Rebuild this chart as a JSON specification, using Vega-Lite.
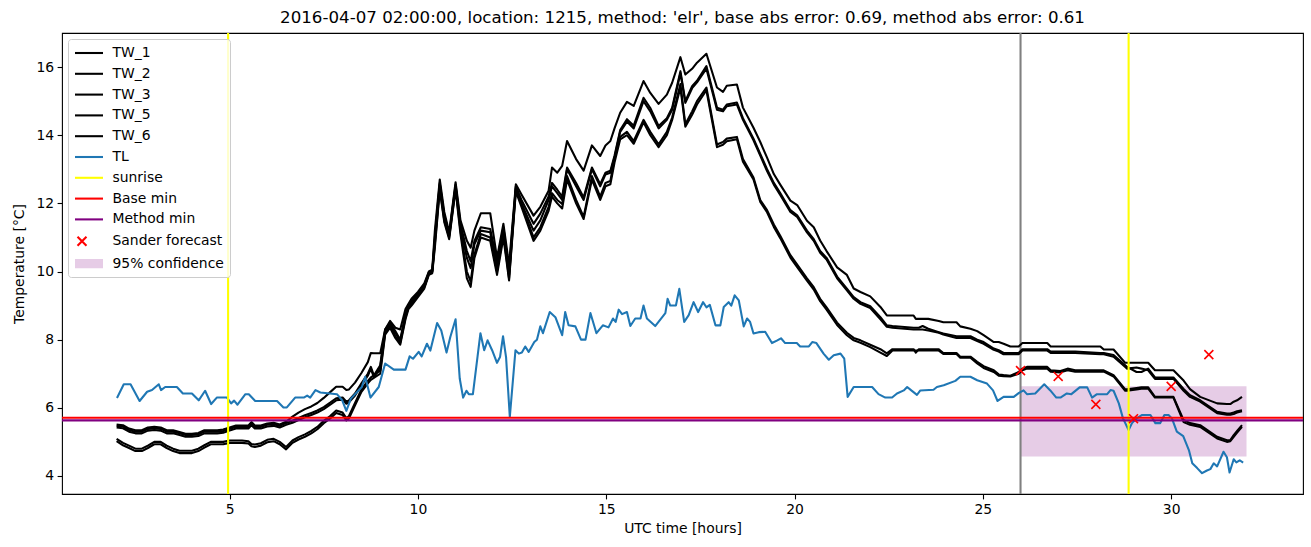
{
"$schema": "https://vega.github.io/schema/vega-lite/v6.json",
"width": 1241, "height": 461,
"autosize": {"type": "none"},
"padding": {"left": 62, "top": 33, "right": 8, "bottom": 53},
"background": "white",
"config": {
  "font": "DejaVu Sans",
  "view": {"stroke": "black", "strokeWidth": 1.1},
  "axis": {"domain": false, "grid": false, "tickColor": "black", "tickSize": 4.9, "tickWidth": 1.1, "labelFontSize": 13.9, "labelColor": "black", "labelPadding": 3.5, "titleFontSize": 13.9, "titleFontWeight": "normal", "titleColor": "black", "labelFont": "DejaVu Sans", "titleFont": "DejaVu Sans"},
  "legend": {"labelFont": "DejaVu Sans"}
},
"title": {"text": "2016-04-07 02:00:00, location: 1215, method: 'elr', base abs error: 0.69, method abs error: 0.61", "fontSize": 16.67, "fontWeight": "normal", "font": "DejaVu Sans", "color": "black", "anchor": "middle", "baseline": "alphabetic", "offset": -8},
"datasets": {
  "tw": [
{"t":2.00,"TW_1":5.51,"TW_2":5.47,"TW_3":5.42,"TW_5":5.09,"TW_6":5.02},
{"t":2.17,"TW_1":5.49,"TW_2":5.45,"TW_3":5.40,"TW_5":4.97,"TW_6":4.90},
{"t":2.33,"TW_1":5.39,"TW_2":5.35,"TW_3":5.30,"TW_5":4.89,"TW_6":4.82},
{"t":2.50,"TW_1":5.34,"TW_2":5.30,"TW_3":5.25,"TW_5":4.80,"TW_6":4.73},
{"t":2.67,"TW_1":5.34,"TW_2":5.30,"TW_3":5.25,"TW_5":4.80,"TW_6":4.73},
{"t":2.83,"TW_1":5.42,"TW_2":5.38,"TW_3":5.33,"TW_5":4.89,"TW_6":4.82},
{"t":3.00,"TW_1":5.44,"TW_2":5.40,"TW_3":5.35,"TW_5":5.00,"TW_6":4.93},
{"t":3.17,"TW_1":5.42,"TW_2":5.38,"TW_3":5.33,"TW_5":5.00,"TW_6":4.93},
{"t":3.33,"TW_1":5.34,"TW_2":5.30,"TW_3":5.25,"TW_5":4.89,"TW_6":4.82},
{"t":3.50,"TW_1":5.34,"TW_2":5.30,"TW_3":5.25,"TW_5":4.80,"TW_6":4.73},
{"t":3.67,"TW_1":5.29,"TW_2":5.25,"TW_3":5.20,"TW_5":4.74,"TW_6":4.67},
{"t":3.83,"TW_1":5.24,"TW_2":5.20,"TW_3":5.15,"TW_5":4.74,"TW_6":4.67},
{"t":4.00,"TW_1":5.24,"TW_2":5.20,"TW_3":5.15,"TW_5":4.74,"TW_6":4.67},
{"t":4.17,"TW_1":5.26,"TW_2":5.22,"TW_3":5.17,"TW_5":4.80,"TW_6":4.73},
{"t":4.33,"TW_1":5.34,"TW_2":5.30,"TW_3":5.25,"TW_5":4.90,"TW_6":4.83},
{"t":4.50,"TW_1":5.34,"TW_2":5.30,"TW_3":5.25,"TW_5":5.00,"TW_6":4.93},
{"t":4.67,"TW_1":5.34,"TW_2":5.30,"TW_3":5.25,"TW_5":5.00,"TW_6":4.93},
{"t":4.83,"TW_1":5.36,"TW_2":5.32,"TW_3":5.27,"TW_5":5.00,"TW_6":4.93},
{"t":5.00,"TW_1":5.42,"TW_2":5.38,"TW_3":5.33,"TW_5":5.04,"TW_6":4.97},
{"t":5.17,"TW_1":5.48,"TW_2":5.44,"TW_3":5.39,"TW_5":5.04,"TW_6":4.97},
{"t":5.33,"TW_1":5.48,"TW_2":5.44,"TW_3":5.39,"TW_5":5.04,"TW_6":4.97},
{"t":5.50,"TW_1":5.48,"TW_2":5.44,"TW_3":5.39,"TW_5":5.02,"TW_6":4.95},
{"t":5.58,"TW_1":5.58,"TW_2":5.54,"TW_3":5.49,"TW_5":4.94,"TW_6":4.87},
{"t":5.67,"TW_1":5.48,"TW_2":5.44,"TW_3":5.39,"TW_5":4.92,"TW_6":4.85},
{"t":5.83,"TW_1":5.48,"TW_2":5.44,"TW_3":5.39,"TW_5":4.96,"TW_6":4.89},
{"t":6.00,"TW_1":5.54,"TW_2":5.50,"TW_3":5.45,"TW_5":5.06,"TW_6":4.99},
{"t":6.17,"TW_1":5.56,"TW_2":5.52,"TW_3":5.47,"TW_5":5.09,"TW_6":5.02},
{"t":6.33,"TW_1":5.51,"TW_2":5.47,"TW_3":5.42,"TW_5":5.00,"TW_6":4.93},
{"t":6.50,"TW_1":5.59,"TW_2":5.55,"TW_3":5.50,"TW_5":4.85,"TW_6":4.78},
{"t":6.67,"TW_1":5.74,"TW_2":5.62,"TW_3":5.56,"TW_5":5.04,"TW_6":4.97},
{"t":6.83,"TW_1":5.86,"TW_2":5.70,"TW_3":5.64,"TW_5":5.14,"TW_6":5.07},
{"t":7.00,"TW_1":5.96,"TW_2":5.78,"TW_3":5.72,"TW_5":5.22,"TW_6":5.15},
{"t":7.17,"TW_1":6.04,"TW_2":5.85,"TW_3":5.79,"TW_5":5.32,"TW_6":5.25},
{"t":7.33,"TW_1":6.14,"TW_2":5.92,"TW_3":5.86,"TW_5":5.44,"TW_6":5.37},
{"t":7.50,"TW_1":6.29,"TW_2":6.02,"TW_3":5.96,"TW_5":5.62,"TW_6":5.55},
{"t":7.67,"TW_1":6.46,"TW_2":6.15,"TW_3":6.09,"TW_5":5.76,"TW_6":5.69},
{"t":7.83,"TW_1":6.62,"TW_2":6.28,"TW_3":6.22,"TW_5":5.92,"TW_6":5.85},
{"t":8.00,"TW_1":6.62,"TW_2":6.30,"TW_3":6.24,"TW_5":5.86,"TW_6":5.79},
{"t":8.10,"TW_1":6.52,"TW_2":6.18,"TW_3":6.12,"TW_5":5.70,"TW_6":5.63},
{"t":8.17,"TW_1":6.54,"TW_2":6.22,"TW_3":6.16,"TW_5":5.76,"TW_6":5.69},
{"t":8.33,"TW_1":6.74,"TW_2":6.42,"TW_3":6.36,"TW_5":6.14,"TW_6":6.07},
{"t":8.50,"TW_1":7.02,"TW_2":6.72,"TW_3":6.66,"TW_5":6.54,"TW_6":6.47},
{"t":8.67,"TW_1":7.34,"TW_2":7.00,"TW_3":6.94,"TW_5":6.79,"TW_6":6.72},
{"t":8.75,"TW_1":7.61,"TW_2":7.20,"TW_3":7.14,"TW_5":6.89,"TW_6":6.82},
{"t":8.83,"TW_1":7.60,"TW_2":6.95,"TW_3":6.90,"TW_5":6.95,"TW_6":6.88},
{"t":9.00,"TW_1":7.60,"TW_2":7.25,"TW_3":7.20,"TW_5":7.10,"TW_6":7.00},
{"t":9.13,"TW_1":8.30,"TW_2":8.30,"TW_3":8.25,"TW_5":8.20,"TW_6":8.15},
{"t":9.26,"TW_1":8.55,"TW_2":8.50,"TW_3":8.45,"TW_5":8.40,"TW_6":8.35},
{"t":9.40,"TW_1":8.35,"TW_2":8.25,"TW_3":8.20,"TW_5":8.10,"TW_6":8.05},
{"t":9.53,"TW_1":8.30,"TW_2":8.00,"TW_3":7.95,"TW_5":7.90,"TW_6":7.85},
{"t":9.67,"TW_1":8.90,"TW_2":8.75,"TW_3":8.70,"TW_5":8.65,"TW_6":8.60},
{"t":9.75,"TW_1":9.05,"TW_2":9.00,"TW_3":8.95,"TW_5":8.95,"TW_6":8.90},
{"t":9.83,"TW_1":9.20,"TW_2":9.15,"TW_3":9.10,"TW_5":9.05,"TW_6":9.00},
{"t":10.00,"TW_1":9.40,"TW_2":9.35,"TW_3":9.30,"TW_5":9.30,"TW_6":9.25},
{"t":10.17,"TW_1":9.65,"TW_2":9.60,"TW_3":9.55,"TW_5":9.55,"TW_6":9.50},
{"t":10.29,"TW_1":10.00,"TW_2":9.98,"TW_3":9.95,"TW_5":9.92,"TW_6":9.90},
{"t":10.38,"TW_1":10.05,"TW_2":10.02,"TW_3":10.00,"TW_5":9.98,"TW_6":9.95},
{"t":10.45,"TW_1":11.2,"TW_2":11.0,"TW_3":10.9,"TW_5":10.8,"TW_6":10.7},
{"t":10.58,"TW_1":12.7,"TW_2":12.6,"TW_3":12.55,"TW_5":12.45,"TW_6":12.4},
{"t":10.70,"TW_1":11.75,"TW_2":11.65,"TW_3":11.6,"TW_5":11.5,"TW_6":11.45},
{"t":10.83,"TW_1":11.15,"TW_2":11.1,"TW_3":11.05,"TW_5":11.0,"TW_6":10.95},
{"t":11.00,"TW_1":12.62,"TW_2":12.55,"TW_3":12.5,"TW_5":12.45,"TW_6":12.4},
{"t":11.13,"TW_1":11.5,"TW_2":11.4,"TW_3":11.3,"TW_5":11.2,"TW_6":11.1},
{"t":11.30,"TW_1":10.9,"TW_2":10.6,"TW_3":10.4,"TW_5":10.0,"TW_6":9.8},
{"t":11.40,"TW_1":10.7,"TW_2":10.3,"TW_3":10.1,"TW_5":9.7,"TW_6":9.55},
{"t":11.50,"TW_1":11.2,"TW_2":10.9,"TW_3":10.8,"TW_5":10.5,"TW_6":10.4},
{"t":11.67,"TW_1":11.71,"TW_2":11.3,"TW_3":11.2,"TW_5":11.1,"TW_6":11.0},
{"t":11.92,"TW_1":11.71,"TW_2":11.25,"TW_3":11.15,"TW_5":11.0,"TW_6":10.9},
{"t":12.10,"TW_1":10.4,"TW_2":10.3,"TW_3":10.1,"TW_5":10.0,"TW_6":9.9},
{"t":12.27,"TW_1":11.4,"TW_2":11.3,"TW_3":11.2,"TW_5":11.1,"TW_6":11.0},
{"t":12.42,"TW_1":10.2,"TW_2":10.0,"TW_3":9.9,"TW_5":9.8,"TW_6":9.74},
{"t":12.60,"TW_1":12.56,"TW_2":12.5,"TW_3":12.45,"TW_5":12.4,"TW_6":12.35},
{"t":12.75,"TW_1":12.26,"TW_2":12.1,"TW_3":12.0,"TW_5":11.97,"TW_6":11.9},
{"t":13.07,"TW_1":11.64,"TW_2":11.4,"TW_3":11.2,"TW_5":11.0,"TW_6":10.9},
{"t":13.25,"TW_1":11.9,"TW_2":11.7,"TW_3":11.5,"TW_5":11.3,"TW_6":11.2},
{"t":13.47,"TW_1":12.37,"TW_2":12.2,"TW_3":12.1,"TW_5":11.9,"TW_6":11.78},
{"t":13.56,"TW_1":13.05,"TW_2":12.6,"TW_3":12.5,"TW_5":12.3,"TW_6":12.2},
{"t":13.70,"TW_1":12.9,"TW_2":12.4,"TW_3":12.3,"TW_5":12.1,"TW_6":12.0},
{"t":13.83,"TW_1":13.1,"TW_2":12.2,"TW_3":12.1,"TW_5":11.98,"TW_6":11.85},
{"t":13.96,"TW_1":13.83,"TW_2":13.05,"TW_3":13.0,"TW_5":12.8,"TW_6":12.7},
{"t":14.20,"TW_1":13.3,"TW_2":12.6,"TW_3":12.5,"TW_5":12.1,"TW_6":12.0},
{"t":14.40,"TW_1":12.96,"TW_2":12.17,"TW_3":12.1,"TW_5":11.6,"TW_6":11.54},
{"t":14.62,"TW_1":13.7,"TW_2":13.05,"TW_3":13.0,"TW_5":12.8,"TW_6":12.7},
{"t":14.84,"TW_1":13.39,"TW_2":12.56,"TW_3":12.5,"TW_5":12.2,"TW_6":12.1},
{"t":14.98,"TW_1":13.7,"TW_2":12.9,"TW_3":12.85,"TW_5":12.6,"TW_6":12.5},
{"t":15.11,"TW_1":13.83,"TW_2":12.96,"TW_3":12.9,"TW_5":12.66,"TW_6":12.56},
{"t":15.22,"TW_1":14.2,"TW_2":13.4,"TW_3":13.35,"TW_5":13.3,"TW_6":13.2},
{"t":15.37,"TW_1":14.66,"TW_2":14.15,"TW_3":14.1,"TW_5":13.95,"TW_6":13.88},
{"t":15.55,"TW_1":14.98,"TW_2":14.47,"TW_3":14.4,"TW_5":14.1,"TW_6":14.0},
{"t":15.73,"TW_1":14.86,"TW_2":14.28,"TW_3":14.2,"TW_5":13.83,"TW_6":13.75},
{"t":15.99,"TW_1":15.59,"TW_2":15.1,"TW_3":15.0,"TW_5":14.45,"TW_6":14.38},
{"t":16.17,"TW_1":15.24,"TW_2":14.8,"TW_3":14.7,"TW_5":14.1,"TW_6":14.0},
{"t":16.39,"TW_1":14.92,"TW_2":14.27,"TW_3":14.2,"TW_5":13.73,"TW_6":13.65},
{"t":16.61,"TW_1":15.19,"TW_2":14.5,"TW_3":14.45,"TW_5":14.1,"TW_6":14.0},
{"t":16.75,"TW_1":15.54,"TW_2":14.81,"TW_3":14.75,"TW_5":14.52,"TW_6":14.45},
{"t":16.97,"TW_1":16.29,"TW_2":15.88,"TW_3":15.82,"TW_5":15.5,"TW_6":15.4},
{"t":17.10,"TW_1":15.78,"TW_2":15.0,"TW_3":14.95,"TW_5":14.32,"TW_6":14.25},
{"t":17.28,"TW_1":15.95,"TW_2":15.44,"TW_3":15.38,"TW_5":14.7,"TW_6":14.6},
{"t":17.41,"TW_1":16.13,"TW_2":15.6,"TW_3":15.55,"TW_5":15.0,"TW_6":14.9},
{"t":17.66,"TW_1":16.39,"TW_2":16.03,"TW_3":15.95,"TW_5":15.4,"TW_6":15.32},
{"t":17.94,"TW_1":15.4,"TW_2":14.81,"TW_3":14.75,"TW_5":13.73,"TW_6":13.65},
{"t":18.10,"TW_1":15.27,"TW_2":14.75,"TW_3":14.7,"TW_5":13.8,"TW_6":13.72},
{"t":18.20,"TW_1":15.45,"TW_2":14.9,"TW_3":14.85,"TW_5":13.9,"TW_6":13.82},
{"t":18.47,"TW_1":15.49,"TW_2":14.96,"TW_3":14.9,"TW_5":13.95,"TW_6":13.88},
{"t":18.63,"TW_1":14.81,"TW_2":14.5,"TW_3":14.45,"TW_5":13.3,"TW_6":13.22},
{"t":18.91,"TW_1":14.22,"TW_2":13.9,"TW_3":13.85,"TW_5":12.76,"TW_6":12.7},
{"t":19.09,"TW_1":13.8,"TW_2":13.45,"TW_3":13.4,"TW_5":12.1,"TW_6":12.04},
{"t":19.27,"TW_1":13.34,"TW_2":13.0,"TW_3":12.95,"TW_5":11.8,"TW_6":11.74},
{"t":19.45,"TW_1":12.86,"TW_2":12.6,"TW_3":12.55,"TW_5":11.38,"TW_6":11.31},
{"t":19.62,"TW_1":12.55,"TW_2":12.3,"TW_3":12.25,"TW_5":11.05,"TW_6":10.98},
{"t":19.89,"TW_1":12.08,"TW_2":11.8,"TW_3":11.75,"TW_5":10.48,"TW_6":10.41},
{"t":20.07,"TW_1":11.95,"TW_2":11.65,"TW_3":11.6,"TW_5":10.2,"TW_6":10.13},
{"t":20.33,"TW_1":11.49,"TW_2":11.2,"TW_3":11.15,"TW_5":9.8,"TW_6":9.73},
{"t":20.51,"TW_1":11.3,"TW_2":10.95,"TW_3":10.9,"TW_5":9.54,"TW_6":9.47},
{"t":20.68,"TW_1":10.91,"TW_2":10.6,"TW_3":10.55,"TW_5":9.2,"TW_6":9.13},
{"t":20.85,"TW_1":10.6,"TW_2":10.4,"TW_3":10.35,"TW_5":8.95,"TW_6":8.88},
{"t":21.13,"TW_1":10.12,"TW_2":9.85,"TW_3":9.8,"TW_5":8.5,"TW_6":8.43},
{"t":21.39,"TW_1":9.9,"TW_2":9.5,"TW_3":9.45,"TW_5":8.2,"TW_6":8.13},
{"t":21.57,"TW_1":9.5,"TW_2":9.25,"TW_3":9.2,"TW_5":8.05,"TW_6":7.98},
{"t":21.75,"TW_1":9.4,"TW_2":9.1,"TW_3":9.05,"TW_5":7.98,"TW_6":7.91},
{"t":22.01,"TW_1":9.27,"TW_2":8.98,"TW_3":8.93,"TW_5":7.85,"TW_6":7.78},
{"t":22.28,"TW_1":8.96,"TW_2":8.66,"TW_3":8.6,"TW_5":7.72,"TW_6":7.62},
{"t":22.45,"TW_1":8.71,"TW_2":8.42,"TW_3":8.38,"TW_5":7.6,"TW_6":7.52},
{"t":22.60,"TW_1":8.71,"TW_2":8.4,"TW_3":8.35,"TW_5":7.72,"TW_6":7.68},
{"t":23.16,"TW_1":8.71,"TW_2":8.35,"TW_3":8.3,"TW_5":7.72,"TW_6":7.68},
{"t":23.22,"TW_1":8.61,"TW_2":8.35,"TW_3":8.3,"TW_5":7.62,"TW_6":7.68},
{"t":23.30,"TW_1":8.61,"TW_2":8.35,"TW_3":8.3,"TW_5":7.72,"TW_6":7.68},
{"t":23.40,"TW_1":8.61,"TW_2":8.4,"TW_3":8.3,"TW_5":7.72,"TW_6":7.68},
{"t":23.55,"TW_1":8.61,"TW_2":8.32,"TW_3":8.27,"TW_5":7.72,"TW_6":7.68},
{"t":23.83,"TW_1":8.55,"TW_2":8.22,"TW_3":8.2,"TW_5":7.72,"TW_6":7.68},
{"t":23.95,"TW_1":8.51,"TW_2":8.18,"TW_3":8.15,"TW_5":7.61,"TW_6":7.58},
{"t":24.30,"TW_1":8.51,"TW_2":8.1,"TW_3":8.05,"TW_5":7.61,"TW_6":7.58},
{"t":24.40,"TW_1":8.39,"TW_2":8.1,"TW_3":8.05,"TW_5":7.5,"TW_6":7.47},
{"t":24.67,"TW_1":8.32,"TW_2":8.1,"TW_3":8.05,"TW_5":7.5,"TW_6":7.47},
{"t":24.85,"TW_1":8.25,"TW_2":8.0,"TW_3":7.96,"TW_5":7.35,"TW_6":7.3},
{"t":25.02,"TW_1":8.13,"TW_2":7.93,"TW_3":7.88,"TW_5":7.22,"TW_6":7.17},
{"t":25.29,"TW_1":7.93,"TW_2":7.74,"TW_3":7.7,"TW_5":7.1,"TW_6":7.05},
{"t":25.42,"TW_1":7.93,"TW_2":7.69,"TW_3":7.65,"TW_5":6.98,"TW_6":6.94},
{"t":25.55,"TW_1":7.88,"TW_2":7.61,"TW_3":7.57,"TW_5":6.96,"TW_6":6.93},
{"t":25.73,"TW_1":7.8,"TW_2":7.61,"TW_3":7.57,"TW_5":6.94,"TW_6":6.92},
{"t":25.95,"TW_1":7.8,"TW_2":7.61,"TW_3":7.57,"TW_5":7.05,"TW_6":7.0},
{"t":26.05,"TW_1":7.9,"TW_2":7.72,"TW_3":7.68,"TW_5":7.15,"TW_6":7.1},
{"t":26.17,"TW_1":7.9,"TW_2":7.72,"TW_3":7.68,"TW_5":7.2,"TW_6":7.15},
{"t":26.71,"TW_1":7.9,"TW_2":7.72,"TW_3":7.68,"TW_5":7.2,"TW_6":7.15},
{"t":26.80,"TW_1":7.8,"TW_2":7.65,"TW_3":7.61,"TW_5":7.1,"TW_6":7.06},
{"t":27.06,"TW_1":7.8,"TW_2":7.65,"TW_3":7.61,"TW_5":7.08,"TW_6":7.04},
{"t":27.25,"TW_1":7.8,"TW_2":7.65,"TW_3":7.61,"TW_5":7.15,"TW_6":7.1},
{"t":27.45,"TW_1":7.8,"TW_2":7.65,"TW_3":7.61,"TW_5":7.1,"TW_6":7.06},
{"t":28.12,"TW_1":7.8,"TW_2":7.61,"TW_3":7.57,"TW_5":7.1,"TW_6":7.06},
{"t":28.21,"TW_1":7.71,"TW_2":7.61,"TW_3":7.57,"TW_5":7.1,"TW_6":7.06},
{"t":28.47,"TW_1":7.71,"TW_2":7.55,"TW_3":7.5,"TW_5":6.96,"TW_6":6.92},
{"t":28.78,"TW_1":7.32,"TW_2":7.25,"TW_3":7.2,"TW_5":6.54,"TW_6":6.5},
{"t":28.83,"TW_1":7.32,"TW_2":7.2,"TW_3":7.15,"TW_5":6.54,"TW_6":6.5},
{"t":29.08,"TW_1":7.32,"TW_2":7.05,"TW_3":7.18,"TW_5":6.58,"TW_6":6.54},
{"t":29.21,"TW_1":7.32,"TW_2":7.05,"TW_3":7.15,"TW_5":6.6,"TW_6":6.56},
{"t":29.39,"TW_1":7.32,"TW_2":7.15,"TW_3":7.1,"TW_5":6.6,"TW_6":6.56},
{"t":29.57,"TW_1":7.1,"TW_2":6.89,"TW_3":6.85,"TW_5":6.32,"TW_6":6.3},
{"t":30.06,"TW_1":7.1,"TW_2":6.89,"TW_3":6.85,"TW_5":6.32,"TW_6":6.3},
{"t":30.33,"TW_1":6.8,"TW_2":6.55,"TW_3":6.5,"TW_5":5.64,"TW_6":5.58},
{"t":30.50,"TW_1":6.55,"TW_2":6.37,"TW_3":6.32,"TW_5":5.55,"TW_6":5.5},
{"t":30.77,"TW_1":6.32,"TW_2":6.22,"TW_3":6.18,"TW_5":5.49,"TW_6":5.44},
{"t":31.22,"TW_1":6.13,"TW_2":5.88,"TW_3":5.84,"TW_5":5.15,"TW_6":5.1},
{"t":31.48,"TW_1":6.11,"TW_2":5.83,"TW_3":5.8,"TW_5":5.05,"TW_6":5.0},
{"t":31.57,"TW_1":6.11,"TW_2":5.83,"TW_3":5.8,"TW_5":5.05,"TW_6":5.02},
{"t":31.66,"TW_1":6.18,"TW_2":5.86,"TW_3":5.82,"TW_5":5.2,"TW_6":5.15},
{"t":31.75,"TW_1":6.22,"TW_2":5.9,"TW_3":5.86,"TW_5":5.32,"TW_6":5.27},
{"t":31.88,"TW_1":6.32,"TW_2":5.93,"TW_3":5.9,"TW_5":5.49,"TW_6":5.44}
  ],
  "tl": [
{"t":2.01,"TL":6.29},{"t":2.19,"TL":6.69},{"t":2.37,"TL":6.69},{"t":2.61,"TL":6.20},{"t":2.81,"TL":6.47},{"t":2.94,"TL":6.52},{"t":3.12,"TL":6.69},{"t":3.18,"TL":6.52},{"t":3.29,"TL":6.61},{"t":3.60,"TL":6.61},{"t":3.76,"TL":6.42},{"t":4.00,"TL":6.42},{"t":4.18,"TL":6.22},{"t":4.35,"TL":6.50},{"t":4.51,"TL":6.11},{"t":4.66,"TL":6.30},{"t":4.93,"TL":6.30},{"t":5.04,"TL":6.13},{"t":5.12,"TL":6.21},{"t":5.21,"TL":6.09},{"t":5.42,"TL":6.40},{"t":5.51,"TL":6.40},{"t":5.68,"TL":6.20},{"t":6.26,"TL":6.20},{"t":6.43,"TL":6.01},{"t":6.52,"TL":6.01},{"t":6.74,"TL":6.30},{"t":6.97,"TL":6.30},{"t":7.06,"TL":6.36},{"t":7.14,"TL":6.30},{"t":7.28,"TL":6.52},{"t":7.41,"TL":6.45},{"t":7.85,"TL":6.40},{"t":7.99,"TL":6.22},{"t":8.10,"TL":5.91},{"t":8.22,"TL":6.27},{"t":8.51,"TL":6.61},{"t":8.60,"TL":6.91},{"t":8.74,"TL":6.30},{"t":8.96,"TL":6.61},{"t":9.13,"TL":7.30},{"t":9.36,"TL":7.12},{"t":9.67,"TL":7.12},{"t":9.78,"TL":7.51},{"t":9.87,"TL":7.44},{"t":10.02,"TL":7.64},{"t":10.10,"TL":7.51},{"t":10.24,"TL":7.88},{"t":10.33,"TL":7.68},{"t":10.51,"TL":8.49},{"t":10.62,"TL":8.27},{"t":10.76,"TL":7.62},{"t":10.86,"TL":8.08},{"t":11.00,"TL":8.60},{"t":11.11,"TL":6.86},{"t":11.20,"TL":6.30},{"t":11.29,"TL":6.50},{"t":11.35,"TL":6.40},{"t":11.46,"TL":6.40},{"t":11.66,"TL":8.19},{"t":11.76,"TL":7.69},{"t":11.85,"TL":7.98},{"t":11.97,"TL":7.69},{"t":12.10,"TL":7.32},{"t":12.18,"TL":7.49},{"t":12.26,"TL":8.10},{"t":12.34,"TL":7.49},{"t":12.44,"TL":5.73},{"t":12.59,"TL":7.69},{"t":12.68,"TL":7.59},{"t":12.76,"TL":7.62},{"t":12.85,"TL":7.80},{"t":12.94,"TL":7.64},{"t":13.09,"TL":7.93},{"t":13.16,"TL":8.00},{"t":13.25,"TL":8.39},{"t":13.32,"TL":8.19},{"t":13.50,"TL":8.81},{"t":13.65,"TL":8.66},{"t":13.83,"TL":8.13},{"t":13.91,"TL":8.81},{"t":14.00,"TL":8.42},{"t":14.18,"TL":8.39},{"t":14.33,"TL":8.00},{"t":14.45,"TL":8.00},{"t":14.58,"TL":8.78},{"t":14.74,"TL":8.19},{"t":14.91,"TL":8.42},{"t":15.06,"TL":8.36},{"t":15.18,"TL":8.62},{"t":15.25,"TL":8.52},{"t":15.33,"TL":8.88},{"t":15.42,"TL":8.75},{"t":15.55,"TL":8.81},{"t":15.64,"TL":8.40},{"t":15.77,"TL":8.62},{"t":15.91,"TL":8.62},{"t":15.99,"TL":9.00},{"t":16.08,"TL":8.62},{"t":16.30,"TL":8.40},{"t":16.57,"TL":8.78},{"t":16.63,"TL":9.20},{"t":16.70,"TL":9.00},{"t":16.85,"TL":9.00},{"t":16.94,"TL":9.49},{"t":17.07,"TL":8.52},{"t":17.19,"TL":8.72},{"t":17.32,"TL":9.10},{"t":17.44,"TL":8.81},{"t":17.57,"TL":9.10},{"t":17.66,"TL":8.95},{"t":17.75,"TL":9.02},{"t":17.90,"TL":8.42},{"t":18.03,"TL":8.42},{"t":18.12,"TL":8.96},{"t":18.25,"TL":9.10},{"t":18.32,"TL":9.00},{"t":18.41,"TL":9.30},{"t":18.52,"TL":9.15},{"t":18.65,"TL":8.39},{"t":18.74,"TL":8.62},{"t":18.82,"TL":8.52},{"t":18.91,"TL":8.18},{"t":19.05,"TL":8.22},{"t":19.22,"TL":8.23},{"t":19.40,"TL":7.90},{"t":19.53,"TL":7.97},{"t":19.64,"TL":8.04},{"t":19.75,"TL":7.90},{"t":20.06,"TL":7.90},{"t":20.15,"TL":7.80},{"t":20.38,"TL":7.80},{"t":20.47,"TL":7.93},{"t":20.58,"TL":7.90},{"t":20.77,"TL":7.59},{"t":20.91,"TL":7.41},{"t":21.04,"TL":7.54},{"t":21.22,"TL":7.59},{"t":21.32,"TL":7.44},{"t":21.41,"TL":6.32},{"t":21.57,"TL":6.61},{"t":22.06,"TL":6.61},{"t":22.23,"TL":6.40},{"t":22.41,"TL":6.30},{"t":22.59,"TL":6.30},{"t":22.72,"TL":6.42},{"t":22.90,"TL":6.51},{"t":22.99,"TL":6.61},{"t":23.10,"TL":6.51},{"t":23.25,"TL":6.38},{"t":23.34,"TL":6.51},{"t":23.69,"TL":6.53},{"t":23.78,"TL":6.61},{"t":23.96,"TL":6.66},{"t":24.27,"TL":6.79},{"t":24.40,"TL":6.91},{"t":24.67,"TL":6.91},{"t":24.85,"TL":6.81},{"t":25.11,"TL":6.71},{"t":25.27,"TL":6.51},{"t":25.39,"TL":6.20},{"t":25.55,"TL":6.32},{"t":25.82,"TL":6.32},{"t":25.96,"TL":6.44},{"t":26.08,"TL":6.51},{"t":26.17,"TL":6.40},{"t":26.39,"TL":6.42},{"t":26.63,"TL":6.69},{"t":26.79,"TL":6.51},{"t":26.95,"TL":6.30},{"t":27.06,"TL":6.30},{"t":27.23,"TL":6.42},{"t":27.35,"TL":6.40},{"t":27.57,"TL":6.60},{"t":27.77,"TL":6.60},{"t":27.90,"TL":6.30},{"t":28.03,"TL":6.40},{"t":28.30,"TL":6.40},{"t":28.39,"TL":6.52},{"t":28.47,"TL":6.50},{"t":28.61,"TL":6.13},{"t":28.72,"TL":5.69},{"t":28.87,"TL":5.35},{"t":28.96,"TL":5.55},{"t":29.08,"TL":5.69},{"t":29.23,"TL":5.79},{"t":29.45,"TL":5.79},{"t":29.58,"TL":5.55},{"t":29.71,"TL":5.55},{"t":29.82,"TL":5.79},{"t":29.93,"TL":5.79},{"t":30.02,"TL":5.69},{"t":30.15,"TL":5.30},{"t":30.32,"TL":5.17},{"t":30.47,"TL":4.76},{"t":30.56,"TL":4.37},{"t":30.69,"TL":4.23},{"t":30.82,"TL":4.08},{"t":30.95,"TL":4.16},{"t":31.04,"TL":4.20},{"t":31.13,"TL":4.37},{"t":31.22,"TL":4.28},{"t":31.39,"TL":4.71},{"t":31.48,"TL":4.55},{"t":31.55,"TL":4.10},{"t":31.66,"TL":4.49},{"t":31.73,"TL":4.40},{"t":31.82,"TL":4.46},{"t":31.91,"TL":4.39}
  ],
  "sander": [
{"t":26,"v":7.09,"s":"Sander forecast"},{"t":27,"v":6.92,"s":"Sander forecast"},{"t":28,"v":6.10,"s":"Sander forecast"},{"t":29,"v":5.68,"s":"Sander forecast"},{"t":30,"v":6.63,"s":"Sander forecast"},{"t":31,"v":7.56,"s":"Sander forecast"}
  ],
  "band": [{"t":26,"t2":32,"v":4.57,"v2":6.63,"s":"95% confidence"}],
  "sunrise": [{"t":4.96,"s":"sunrise"},{"t":28.87,"s":"sunrise"}],
  "mins": [{"v":5.71,"s":"Base min"},{"v":5.63,"s":"Method min"}],
  "fc": [{"t":26.0}]
},
"layer": [
  {
    "data": {"name": "band"},
    "mark": {"type": "rect", "opacity": 1},
    "encoding": {
      "x": {"field": "t", "type": "quantitative", "scale": {"domain": [0.55, 33.5], "nice": false, "zero": false}, "axis": {"values": [5,10,15,20,25,30], "format": "d", "title": "UTC time [hours]", "titlePadding": 5}},
      "x2": {"field": "t2"},
      "y": {"field": "v", "type": "quantitative", "scale": {"domain": [3.47, 17.0], "nice": false, "zero": false}, "axis": {"values": [4,6,8,10,12,14,16], "format": "d", "title": "Temperature [°C]", "titlePadding": 9}},
      "y2": {"field": "v2"},
      "color": {"field": "s", "type": "nominal",
        "scale": {"domain": ["TW_1","TW_2","TW_3","TW_5","TW_6","TL","sunrise","Base min","Method min","Sander forecast","95% confidence"], "range": ["black","black","black","black","black","#1f77b4","#ffff00","#ff0000","#800080","#ff0000","#e6cce6"]},
        "legend": {"title": null, "orient": "top-left", "offset": 6, "padding": 5.5, "fillColor": "rgba(255,255,255,0.8)", "strokeColor": "#cccccc", "cornerRadius": 3, "symbolSize": 196, "labelOffset": 22, "rowPadding": 4.8, "labelFontSize": 13.9, "labelColor": "black", "symbolStrokeWidth": 2.08}
      }
    }
  },
  {
    "data": {"name": "fc"},
    "mark": {"type": "rule", "color": "#808080", "strokeWidth": 2.08},
    "encoding": {"x": {"field": "t", "type": "quantitative"}}
  },
  {
    "data": {"name": "tw"},
    "transform": [{"fold": ["TW_1","TW_2","TW_3","TW_5","TW_6"], "as": ["s","v"]}],
    "mark": {"type": "line", "strokeWidth": 2.08, "strokeJoin": "round"},
    "encoding": {
      "x": {"field": "t", "type": "quantitative"},
      "y": {"field": "v", "type": "quantitative"},
      "color": {"field": "s", "type": "nominal"},
      "order": {"field": "t", "type": "quantitative"}
    }
  },
  {
    "data": {"name": "tl"},
    "transform": [{"fold": ["TL"], "as": ["s","v"]}],
    "mark": {"type": "line", "strokeWidth": 2.08, "strokeJoin": "round"},
    "encoding": {
      "x": {"field": "t", "type": "quantitative"},
      "y": {"field": "v", "type": "quantitative"},
      "color": {"field": "s", "type": "nominal"},
      "order": {"field": "t", "type": "quantitative"}
    }
  },
  {
    "data": {"name": "sunrise"},
    "mark": {"type": "rule", "strokeWidth": 2.08},
    "encoding": {
      "x": {"field": "t", "type": "quantitative"},
      "color": {"field": "s", "type": "nominal"}
    }
  },
  {
    "data": {"name": "mins"},
    "mark": {"type": "rule", "strokeWidth": 2.08},
    "encoding": {
      "y": {"field": "v", "type": "quantitative"},
      "color": {"field": "s", "type": "nominal"}
    }
  },
  {
    "data": {"name": "sander"},
    "mark": {"type": "point", "size": 196, "filled": false, "strokeWidth": 1.6, "opacity": 1},
    "encoding": {
      "x": {"field": "t", "type": "quantitative"},
      "y": {"field": "v", "type": "quantitative"},
      "color": {"field": "s", "type": "nominal"},
      "shape": {"field": "s", "type": "nominal",
        "scale": {"domain": ["TW_1","TW_2","TW_3","TW_5","TW_6","TL","sunrise","Base min","Method min","Sander forecast","95% confidence"], "range": ["M-1,0H3","M-1,0H3","M-1,0H3","M-1,0H3","M-1,0H3","M-1,0H3","M-1,0H3","M-1,0H3","M-1,0H3","M-0.64,-0.64L0.64,0.64M-0.64,0.64L0.64,-0.64","M-1,-0.55H3M-1,-0.3H3M-1,-0.05H3M-1,0.2H3M-1,0.45H3"]},
        "legend": {"title": null, "orient": "top-left", "offset": 6, "padding": 5.5, "fillColor": "rgba(255,255,255,0.8)", "strokeColor": "#cccccc", "cornerRadius": 3, "symbolSize": 196, "labelOffset": 22, "rowPadding": 4.8, "labelFontSize": 13.9, "labelColor": "black", "symbolStrokeWidth": 2.08}
      }
    }
  }
]
}
